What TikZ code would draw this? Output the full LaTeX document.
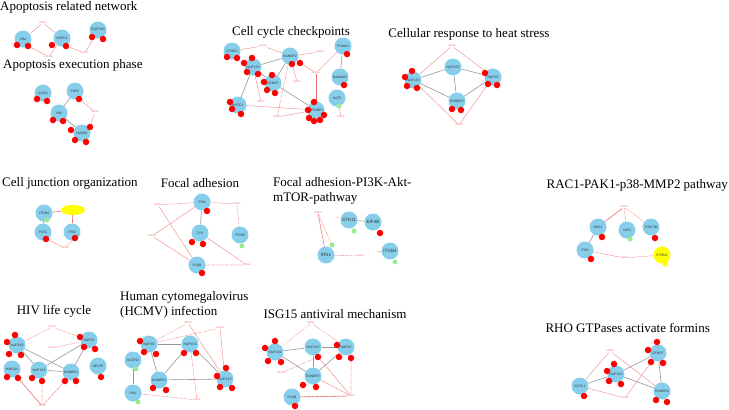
\documentclass[tikz,border=0pt]{standalone}
\usepackage{fontspec}
\setmainfont{Liberation Serif}
\setsansfont{Liberation Sans}
\usepackage{tikz}
\usetikzlibrary{shapes,positioning,backgrounds}
\definecolor{skyb}{RGB}{135,206,235}
\definecolor{lgreen}{RGB}{150,238,140}
\definecolor{yel}{RGB}{255,255,0}
\definecolor{pinkred}{RGB}{240,110,110}
\definecolor{edgegray}{RGB}{150,150,150}

\begin{document}
\begin{tikzpicture}[x=1pt, y=-1pt,
    ttl/.style={font=\fontsize{13}{15.5}\selectfont, inner sep=0pt, align=left},
    gene/.style={circle, fill=skyb, minimum size=17pt, inner sep=0pt, font=\fontsize{3.4}{4}\sffamily, text=black!80},
    biggene/.style={gene, font=\fontsize{4.6}{5}\sffamily},
    mir/.style={circle, fill=red, minimum size=6.5pt, inner sep=0pt},
    tf/.style={circle, fill=lgreen, minimum size=5pt, inner sep=0pt},
    lbl/.style={font=\fontsize{2.4}{3}\sffamily, text=pinkred, inner sep=0.4pt},
    ppi/.style={draw=edgegray, line width=0.6pt},
    reg/.style={draw=pinkred, line width=0.3pt},
    regd/.style={draw=pinkred, line width=0.7pt, line cap=round, dash pattern=on 0pt off 1.3pt}]
\useasboundingbox (0,0) rectangle (729,410);

\node[ttl, anchor=west] (t1) at (0,7) {Apoptosis related network};
\node[gene] (p1vim) at (23,39) {VIM};
\node[gene] (p1hspd) at (62,38) {HSPD1};
\node[gene] (p1sqstm) at (98,30) {SQSTM1};
\foreach \x/\y [count=\i] in {17/45,28/46,52/45,66/46,92/37,103/39}
    \node[mir] (p1d\i) at (\x,\y) {};
\node[lbl] (p1l1) at (43,23) {miRNA};
\node[lbl] (p1l2) at (49,57) {miRNA};
\node[lbl] (p1l3) at (85,53) {miRNA};

\node[ttl, anchor=west] (t2) at (3,65) {Apoptosis execution phase};
\node[gene] (p2acin) at (43,93) {ACIN1};
\node[gene] (p2plec) at (75,91) {PLEC};
\node[gene] (p2vim) at (59,113) {VIM};
\node[gene] (p2lmnb) at (82,133) {LMNB1};
\foreach \x/\y [count=\i] in {37/99,47/101,79/99,53/120,63/121,71/130,75/140,86/142,90/127}
    \node[mir] (p2d\i) at (\x,\y) {};
\node[lbl] (p2l1) at (95,112) {miRNA};

\node[ttl] (t3) at (291,32) {Cell cycle checkpoints};
\node[gene] (p3gtse) at (232,51) {GTSE1};
\node[gene] (p3psma) at (343,46) {PSMA4};
\node[gene] (p3ranbp) at (290,56) {RANBP2};
\node[gene] (p3nup) at (253,67) {NUP133};
\node[gene] (p3cenpf) at (273,83) {CENPF};
\node[gene] (p3babam) at (340,77) {BABAM1};
\node[gene] (p3kat) at (337,98) {KAT5};
\node[gene] (p3kntc) at (238,105) {KNTC1};
\node[gene] (p3tp) at (316,110) {TP53BP1};
\node[tf] (p3g1) at (339,106) {};
\foreach \x/\y [count=\i] in {227/57,237/58,292/64,300/63,252/58,244/63,247/72,258/74,347/54,344/85,272/75,264/82,267/90,275/93,230/102,232/109,241/114,314/102,308/110,309/118,314/121,320/120,324/115}
    \node[mir] (p3d\i) at (\x,\y) {};
\node[lbl] (p3l1) at (263,46) {miRNA};
\node[lbl] (p3l2) at (320,52) {miRNA};
\node[lbl] (p3l3) at (316,73) {miRNA};
\node[lbl] (p3l4) at (297,82) {miRNA};
\node[lbl] (p3l5) at (261,102) {miRNA};
\node[lbl] (p3l6) at (277,117) {miRNA};
\node[lbl] (p3l7) at (341,117) {miRNA};

\node[ttl] (t4) at (469,34) {Cellular response to heat stress};
\node[gene] (p4n133) at (413,80) {NUP133};
\node[gene] (p4n153) at (453,67) {NUP153};
\node[gene] (p4n35) at (493,77) {NUP35};
\node[gene] (p4rb) at (457,101) {RANBP2};
\foreach \x/\y [count=\i] in {412/71,405/77,407/86,417/88,485/73,488/84,497/85,452/109,461/110}
    \node[mir] (p4d\i) at (\x,\y) {};
\node[lbl] (p4l1) at (452,46) {miRNA};
\node[lbl] (p4l2) at (459,125) {miRNA};

\node[ttl, anchor=west] (t5) at (2,183) {Cell junction organization};
\node[gene] (p5itgb) at (44,213) {ITGB4};
\node[gene] (p5plec) at (43,232) {PLEC};
\node[gene] (p5pxn) at (72,232) {PXN};
\node[ellipse, fill=yel, minimum width=24pt, minimum height=10pt, inner sep=0pt] (p5y) at (73,210) {};
\node[tf] (p5g1) at (47,220) {};
\node[mir] (p5d1) at (46,239) {};
\node[mir] (p5d2) at (75,238) {};
\node[lbl] (p5l1) at (65,248) {miRNA};

\node[ttl] (t6) at (200,183) {Focal adhesion};
\node[gene] (p6pxn) at (202,202) {PXN};
\node[gene] (p6zyx) at (200,233) {ZYX};
\node[gene] (p6itgb) at (240,235) {ITGB4};
\node[gene] (p6flnb) at (197,265) {FLNB};
\foreach \x/\y [count=\i] in {207/211,192/242,203/244,202/273}
    \node[mir] (p6d\i) at (\x,\y) {};
\node[tf] (p6g1) at (242,246) {};
\node[lbl] (p6l1) at (158,205) {miRNA};
\node[lbl] (p6l2) at (237,204) {miRNA};
\node[lbl] (p6l3) at (152,236) {miRNA};
\node[lbl] (p6l4) at (247,265) {miRNA};

\node[ttl, anchor=west] (t7) at (273,191) {Focal adhesion-PI3K-Akt-\\mTOR-pathway};
\node[biggene] (p7stk) at (349,220) {STK11};
\node[biggene] (p7eif) at (373,222) {EIF4B};
\node[biggene] (p7irs) at (326,255) {IRS1};
\node[biggene] (p7itgb) at (390,251) {ITGB4};
\node[tf] (p7g1) at (354,231) {};
\node[tf] (p7g2) at (332,245) {};
\node[tf] (p7g3) at (395,262) {};
\node[mir] (p7d1) at (380,233) {};
\node[lbl] (p7l1) at (318,213) {miRNA};
\node[lbl] (p7l2) at (360,256) {miRNA};
\coordinate (p7c1) at (336,217);
\coordinate (p7c2) at (377,252);

\node[ttl, anchor=east] (t8) at (728,185) {RAC1-PAK1-p38-MMP2 pathway};
\node[gene] (p8nck) at (598,227) {NCK1};
\node[gene] (p8pxn) at (585,250) {PXN};
\node[gene] (p8yap) at (627,230) {YAP1};
\node[gene] (p8stat) at (651,227) {STAT5B};
\node[gene, fill=yel] (p8stmn) at (662,255) {STMN1};
\node[mir] (p8d1) at (602,237) {};
\node[mir] (p8d2) at (591,259) {};
\node[mir] (p8d3) at (655,238) {};
\node[tf] (p8g1) at (630,239) {};
\node[circle, fill=yel, minimum size=5pt, inner sep=0pt] (p8y1) at (665,264) {};
\node[lbl] (p8l1) at (624,207) {miRNA};
\node[lbl] (p8l2) at (624,258) {miRNA};

\node[ttl] (t9) at (54,311) {HIV life cycle};
\node[gene] (p9n133) at (17,345) {NUP133};
\node[gene] (p9n35) at (89,340) {NUP35};
\node[gene] (p9hmga) at (12,369) {HMGA1};
\node[gene] (p9n153) at (39,370) {NUP153};
\node[gene] (p9rb) at (71,372) {RANBP2};
\node[gene] (p9nelfe) at (98,366) {NELFE};
\foreach \x/\y [count=\i] in {15/335,7/342,9/354,21/355,80/337,84/347,95/349,7/377,18/378,32/378,42/381,65/381,76/381,101/377}
    \node[mir] (p9d\i) at (\x,\y) {};
\node[lbl] (p9l1) at (52,327) {miRNA};
\node[lbl] (p9l2) at (52,348) {miRNA};
\node[lbl] (p9l3) at (42,406) {miRNA};

\node[ttl, anchor=west] (t10) at (120,305) {Human cytomegalovirus\\(HCMV) infection};
\node[gene] (p10n35) at (149,344) {NUP35};
\node[gene] (p10n153) at (190,344) {NUP153};
\node[gene] (p10ncor) at (133,360) {NCOR2};
\node[gene] (p10rb) at (159,380) {RANBP2};
\node[gene] (p10n133) at (225,379) {NUP133};
\node[gene] (p10pml) at (133,393) {PML};
\foreach \x/\y [count=\i] in {140/341,144/352,156/354,184/353,196/353,226/368,217/376,220/387,232/388,153/388,166/390}
    \node[mir] (p10d\i) at (\x,\y) {};
\node[tf] (p10g1) at (136,369) {};
\node[tf] (p10g2) at (138,402) {};
\node[lbl] (p10l1) at (188,323) {miRNA};
\node[lbl] (p10l2) at (220,328) {miRNA};
\node[lbl] (p10l3) at (197,400) {miRNA};

\node[ttl] (t11) at (335,314) {ISG15 antiviral mechanism};
\node[gene] (p11n133) at (275,352) {NUP133};
\node[gene] (p11n153) at (313,347) {NUP153};
\node[gene] (p11n35) at (346,347) {NUP35};
\node[gene] (p11rb) at (313,376) {RANBP2};
\node[gene] (p11flnb) at (292,397) {FLNB};
\foreach \x/\y [count=\i] in {275/341,265/348,268/361,281/362,318/357,337/345,339/357,351/358,303/385,316/387,295/406}
    \node[mir] (p11d\i) at (\x,\y) {};
\node[lbl] (p11l1) at (311,323) {miRNA};
\node[lbl] (p11l2) at (281,373) {miRNA};
\node[lbl] (p11l3) at (351,396) {miRNA};

\node[ttl, anchor=east] (t12) at (710,328) {RHO GTPases activate formins};
\node[gene] (p12cenpf) at (658,353) {CENPF};
\node[gene] (p12n133) at (616,374) {NUP133};
\node[gene] (p12kntc) at (580,386) {KNTC1};
\node[gene] (p12rb) at (662,391) {RANBP2};
\foreach \x/\y [count=\i] in {657/342,648/350,651/362,663/363,614/364,607/371,609/381,621/384,656/400,667/402,584/396}
    \node[mir] (p12d\i) at (\x,\y) {};
\node[lbl] (p12l1) at (610,351) {miRNA};
\node[lbl] (p12l2) at (625,398) {miRNA};

\begin{pgfonlayer}{background}
\fill[white] (0,0) rectangle (729,410);
\draw[reg] (p1l1) -- (p1vim);
\draw[reg] (p1l1) -- (p1hspd);
\draw[reg] (p1d2) -- (p1l2);
\draw[reg] (p1hspd) -- (p1l2);
\draw[reg] (p1d4) -- (p1l3);
\draw[reg] (p1sqstm) -- (p1l3);

\draw[ppi] (p2plec) -- (p2vim);
\draw[ppi] (p2vim) -- (p2lmnb);
\draw[reg] (p2d3) -- (p2l1);
\draw[reg] (p2l1) -- (p2d9);

\draw[ppi] (p3nup) -- (p3ranbp);
\draw[ppi] (p3ranbp) -- (p3cenpf);
\draw[ppi] (p3nup) -- (p3cenpf);
\draw[ppi] (p3nup) -- (p3kntc);
\draw[ppi] (p3cenpf) -- (p3tp);
\draw[ppi] (p3psma) -- (p3babam);
\draw[reg] (p3gtse) -- (p3l1);
\draw[reg] (p3l1) -- (p3ranbp);
\draw[reg] (p3ranbp) -- (p3l2);
\draw[reg] (p3ranbp) -- (p3l3);
\draw[reg] (p3psma) -- (p3l3);
\draw[reg] (p3l3) -- (p3tp);
\draw[reg] (p3ranbp) -- (p3l4);
\draw[regd] (p3ranbp) -- (p3l6);
\draw[reg] (p3nup) -- (p3l5);
\draw[reg] (p3kntc) -- (p3tp);
\draw[reg] (p3l6) -- (p3tp);
\draw[reg] (p3g1) -- (p3l7);

\draw[ppi] (p4n133) -- (p4n153);
\draw[ppi] (p4n153) -- (p4n35);
\draw[ppi] (p4n153) -- (p4rb);
\draw[ppi] (p4n133) -- (p4rb);
\draw[ppi] (p4rb) -- (p4n35);
\draw[reg] (p4l1) -- (p4n133);
\draw[reg] (p4l1) -- (p4n35);
\draw[reg] (p4l2) -- (p4n133);
\draw[reg] (p4l2) -- (p4n35);

\draw[reg, line width=0.6pt] (p5itgb) -- (p5y);
\draw[reg, line width=0.6pt] (p5y) -- (p5pxn);
\draw[ppi] (p5itgb) -- (p5plec);
\draw[reg] (p5d1) -- (p5l1);
\draw[reg] (p5d2) -- (p5l1);

\draw[ppi] (p6pxn) -- (p6zyx);
\draw[regd] (p6l1) -- (p6pxn);
\draw[reg] (p6l1) -- (p6flnb);
\draw[regd] (p6l2) -- (p6pxn);
\draw[regd] (p6l2) -- (p6itgb);
\draw[reg] (p6l3) -- (p6pxn);
\draw[reg] (p6l3) -- (p6flnb);
\draw[reg] (p6zyx) -- (p6l4);
\draw[regd] (p6flnb) -- (p6l4);

\draw[ppi] (p7stk) -- (p7eif);
\draw[regd] (p7l1) -- (p7g2);
\draw[regd, line width=1pt] (p7l1) -- (p7irs);
\draw[regd] (p7c1) -- (p7stk);
\draw[regd] (p7irs) -- (p7l2);
\draw[reg, line width=0.5pt] (p7c2) -- (p7itgb);

\draw[ppi] (p8nck) -- (p8pxn);
\draw[reg, line width=0.6pt] (p8nck) -- (p8l1);
\draw[regd] (p8l1) -- (p8yap);
\draw[regd] (p8l1) -- (p8stat);
\draw[reg] (p8pxn) -- (p8l2);
\draw[regd] (p8l2) -- (p8stmn);

\draw[ppi] (p9n133) -- (p9n153);
\draw[ppi] (p9n133) -- (p9rb);
\draw[ppi] (p9n153) -- (p9n35);
\draw[ppi] (p9n153) -- (p9rb);
\draw[ppi] (p9rb) -- (p9n35);
\draw[regd] (p9n133) -- (p9l1);
\draw[regd] (p9l1) -- (p9d5);
\draw[regd] (p9l2) -- (p9n35);
\draw[reg, line width=0.6pt] (p9l3) -- (p9d9);
\draw[regd] (p9l3) -- (p9d11);
\draw[reg] (p9l3) -- (p9d12);

\draw[ppi] (p10n35) -- (p10n153);
\draw[ppi] (p10n153) -- (p10rb);
\draw[ppi] (p10n35) -- (p10rb);
\draw[ppi] (p10n153) -- (p10n133);
\draw[ppi] (p10rb) -- (p10n133);
\draw[ppi] (p10ncor) -- (p10pml);
\draw[regd] (p10n35) -- (p10l1);
\draw[regd] (p10n35) -- (p10l2);
\draw[reg] (p10l1) -- (p10n133);
\draw[reg] (p10l2) -- (p10n133);
\draw[regd] (p10n153) -- (p10l3);
\draw[regd] (p10pml) -- (p10l3);

\draw[ppi] (p11n133) -- (p11n153);
\draw[ppi] (p11n153) -- (p11n35);
\draw[ppi] (p11n153) -- (p11rb);
\draw[ppi] (p11n133) -- (p11rb);
\draw[ppi] (p11rb) -- (p11n35);
\draw[regd] (p11l1) -- (p11n133);
\draw[regd] (p11l1) -- (p11n35);
\draw[regd] (p11l2) -- (p11d5);
\draw[regd, line width=1.1pt] (p11flnb) -- (p11l3);
\draw[regd] (p11d8) -- (p11l3);
\draw[reg] (p11d5) -- (p11l3);
\draw[reg] (p11rb) -- (p11l3);

\draw[ppi] (p12n133) -- (p12cenpf);
\draw[ppi] (p12n133) -- (p12rb);
\draw[ppi] (p12cenpf) -- (p12rb);
\draw[ppi] (p12kntc) -- (p12n133);
\draw[reg] (p12l1) -- (p12kntc);
\draw[reg] (p12l1) -- (p12rb);
\draw[reg] (p12l2) -- (p12cenpf);
\draw[reg] (p12l2) -- (p12kntc);
\end{pgfonlayer}
\end{tikzpicture}
\end{document}
